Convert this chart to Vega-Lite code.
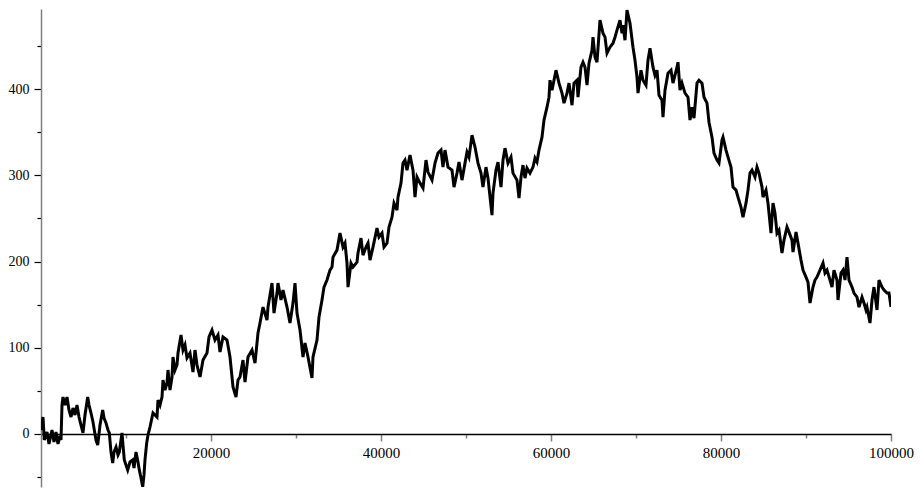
{
"$schema":"https://vega.github.io/schema/vega-lite/v6.json",
"width":850,"height":478,
"autosize":{"type":"none"},
"padding":{"left":41,"top":9,"right":29,"bottom":9},
"background":"white",
"config":{"view":{"stroke":null}},
"data":{"values":[
{"x":0,"y":4.6},{"x":235,"y":19.7},{"x":388,"y":-7},{"x":706,"y":2.3},{"x":941,"y":-11.6},{"x":1294,"y":4.6},{"x":1529,"y":-9.3},{"x":1765,"y":2.3},{"x":2000,"y":-11.6},{"x":2235,"y":-2.3},{"x":2353,"y":-7},{"x":2471,"y":33.6},{"x":2588,"y":42.9},{"x":2824,"y":33.6},{"x":3059,"y":42.9},{"x":3294,"y":27.8},{"x":3529,"y":19.7},{"x":3765,"y":30.1},{"x":4000,"y":22},{"x":4235,"y":33.6},{"x":4471,"y":19.7},{"x":4706,"y":10.4},{"x":4941,"y":1.2},{"x":5176,"y":22},{"x":5494,"y":42.9},{"x":5647,"y":33.6},{"x":5882,"y":24.3},{"x":6118,"y":13.9},{"x":6271,"y":4.6},{"x":6471,"y":-7},{"x":6671,"y":-12.8},{"x":6941,"y":10.4},{"x":7259,"y":27.8},{"x":7412,"y":18.6},{"x":7647,"y":12.8},{"x":7882,"y":4.6},{"x":8035,"y":1.2},{"x":8235,"y":-20.9},{"x":8435,"y":-33.6},{"x":8588,"y":-20.9},{"x":8824,"y":-15.1},{"x":9059,"y":-24.3},{"x":9212,"y":-20.9},{"x":9529,"y":1.2},{"x":9647,"y":-12.8},{"x":9800,"y":-30.1},{"x":10000,"y":-35.9},{"x":10200,"y":-41.7},{"x":10471,"y":-32.5},{"x":10788,"y":-30.1},{"x":10941,"y":-39.4},{"x":11176,"y":-20.9},{"x":11412,"y":-32.5},{"x":11565,"y":-41.7},{"x":11765,"y":-51},{"x":11965,"y":-61.4},{"x":12118,"y":-47.5},{"x":12235,"y":-30.1},{"x":12435,"y":-10.4},{"x":12588,"y":-1.2},{"x":12824,"y":8.1},{"x":13176,"y":24.3},{"x":13647,"y":19.7},{"x":13765,"y":39.4},{"x":14000,"y":33.6},{"x":14235,"y":42.9},{"x":14353,"y":62.6},{"x":14588,"y":51},{"x":14824,"y":59.1},{"x":14941,"y":74.2},{"x":15176,"y":51},{"x":15412,"y":66.1},{"x":15529,"y":89.3},{"x":15765,"y":74.2},{"x":16000,"y":80},{"x":16118,"y":93.9},{"x":16471,"y":114.8},{"x":16706,"y":97.4},{"x":16941,"y":103.2},{"x":17176,"y":88.1},{"x":17529,"y":93.9},{"x":17882,"y":71.9},{"x":18118,"y":97.4},{"x":18353,"y":80},{"x":18706,"y":66.1},{"x":19059,"y":85.8},{"x":19529,"y":93.9},{"x":19765,"y":112.5},{"x":20118,"y":120.6},{"x":20471,"y":109},{"x":20824,"y":114.8},{"x":21059,"y":95.1},{"x":21412,"y":112.5},{"x":21882,"y":109},{"x":22235,"y":89.3},{"x":22588,"y":54.5},{"x":22941,"y":42.9},{"x":23176,"y":62.6},{"x":23412,"y":66.1},{"x":23765,"y":85.8},{"x":24000,"y":60.3},{"x":24353,"y":89.3},{"x":24824,"y":97.4},{"x":25176,"y":82.3},{"x":25529,"y":117.1},{"x":25765,"y":128.7},{"x":26118,"y":147.2},{"x":26588,"y":132.2},{"x":26706,"y":147.2},{"x":27176,"y":175.1},{"x":27412,"y":140.3},{"x":27765,"y":163.5},{"x":27882,"y":175.1},{"x":28235,"y":155.4},{"x":28471,"y":167},{"x":28941,"y":147.2},{"x":29294,"y":128.7},{"x":29647,"y":151.9},{"x":29882,"y":175.1},{"x":30118,"y":140.3},{"x":30471,"y":120.6},{"x":30824,"y":89.3},{"x":31059,"y":105.5},{"x":31412,"y":89.3},{"x":31882,"y":64.9},{"x":32000,"y":89.3},{"x":32471,"y":109},{"x":32706,"y":135.7},{"x":33059,"y":155.4},{"x":33294,"y":170.4},{"x":33647,"y":178.6},{"x":34000,"y":190.1},{"x":34235,"y":193.6},{"x":34353,"y":205.2},{"x":34824,"y":213.3},{"x":35176,"y":233},{"x":35529,"y":216.8},{"x":35765,"y":221.4},{"x":36000,"y":198.3},{"x":36118,"y":170.4},{"x":36471,"y":198.3},{"x":36706,"y":193.6},{"x":37176,"y":199.4},{"x":37294,"y":209.9},{"x":37647,"y":227.2},{"x":37882,"y":207.5},{"x":38235,"y":216.8},{"x":38471,"y":221.4},{"x":38706,"y":201.7},{"x":39059,"y":216.8},{"x":39529,"y":238.8},{"x":39765,"y":228.4},{"x":40118,"y":233},{"x":40353,"y":216.8},{"x":40706,"y":221.4},{"x":40941,"y":240},{"x":41294,"y":251.6},{"x":41529,"y":267.8},{"x":41882,"y":259.7},{"x":42000,"y":274.8},{"x":42353,"y":291},{"x":42588,"y":314.2},{"x":42824,"y":317.7},{"x":43059,"y":306.1},{"x":43412,"y":323.5},{"x":43765,"y":306.1},{"x":44000,"y":274.8},{"x":44235,"y":298},{"x":44588,"y":291},{"x":44941,"y":285.2},{"x":45294,"y":317.7},{"x":45529,"y":303.8},{"x":46000,"y":294.5},{"x":46353,"y":314.2},{"x":46706,"y":325.8},{"x":47059,"y":329.3},{"x":47294,"y":309.6},{"x":47529,"y":329.3},{"x":47882,"y":309.6},{"x":48353,"y":306.1},{"x":48588,"y":286.4},{"x":48941,"y":302.6},{"x":49176,"y":315.4},{"x":49529,"y":294.5},{"x":49882,"y":314.2},{"x":50118,"y":327},{"x":50353,"y":321.2},{"x":50706,"y":346.7},{"x":51059,"y":332.8},{"x":51412,"y":314.2},{"x":51765,"y":302.6},{"x":52000,"y":286.4},{"x":52353,"y":309.6},{"x":52588,"y":296.8},{"x":53059,"y":253.9},{"x":53176,"y":279.4},{"x":53529,"y":306.1},{"x":53765,"y":315.4},{"x":54118,"y":286.4},{"x":54353,"y":317.7},{"x":54588,"y":331.6},{"x":54941,"y":314.2},{"x":55294,"y":321.2},{"x":55529,"y":302.6},{"x":56000,"y":294.5},{"x":56235,"y":273.6},{"x":56471,"y":298},{"x":56706,"y":311.9},{"x":56941,"y":296.8},{"x":57176,"y":308.4},{"x":57529,"y":302.6},{"x":57882,"y":309.6},{"x":58118,"y":320},{"x":58353,"y":315.4},{"x":58588,"y":329.3},{"x":58941,"y":344.3},{"x":59176,"y":364.1},{"x":59529,"y":379.1},{"x":59765,"y":390.7},{"x":59882,"y":410.4},{"x":60118,"y":398.8},{"x":60588,"y":422},{"x":60941,"y":407},{"x":61294,"y":395.4},{"x":61529,"y":383.8},{"x":61882,"y":395.4},{"x":62118,"y":407},{"x":62471,"y":381.4},{"x":62706,"y":407},{"x":63059,"y":410.4},{"x":63176,"y":390.7},{"x":63529,"y":425.5},{"x":63765,"y":431.3},{"x":64000,"y":425.5},{"x":64235,"y":404.6},{"x":64471,"y":430.1},{"x":64824,"y":445.2},{"x":64941,"y":460.3},{"x":65176,"y":437.1},{"x":65412,"y":431.3},{"x":65765,"y":480},{"x":66118,"y":464.9},{"x":66353,"y":460.3},{"x":66588,"y":441.7},{"x":66941,"y":448.7},{"x":67294,"y":453.3},{"x":67529,"y":460.3},{"x":67765,"y":468.4},{"x":68118,"y":480},{"x":68353,"y":464.9},{"x":68471,"y":474.2},{"x":68706,"y":456.8},{"x":68941,"y":491.6},{"x":69294,"y":476.5},{"x":69647,"y":448.7},{"x":69882,"y":433.6},{"x":70118,"y":413.9},{"x":70235,"y":395.4},{"x":70588,"y":422},{"x":70824,"y":410.4},{"x":71176,"y":404.6},{"x":71412,"y":433.6},{"x":71647,"y":447.5},{"x":72000,"y":425.5},{"x":72235,"y":416},{"x":72471,"y":422},{"x":72706,"y":393},{"x":73059,"y":387.2},{"x":73176,"y":367.5},{"x":73412,"y":398.8},{"x":73765,"y":418.6},{"x":74118,"y":422},{"x":74353,"y":407},{"x":74824,"y":425.5},{"x":74941,"y":431.3},{"x":75176,"y":398.8},{"x":75412,"y":407},{"x":75765,"y":395.4},{"x":76118,"y":390.7},{"x":76353,"y":364.1},{"x":76588,"y":379.1},{"x":76824,"y":366.4},{"x":77176,"y":407},{"x":77412,"y":410.4},{"x":77765,"y":407},{"x":78000,"y":390.7},{"x":78353,"y":383.8},{"x":78588,"y":361.7},{"x":78941,"y":344.3},{"x":79176,"y":325.8},{"x":79529,"y":317.7},{"x":79765,"y":314.2},{"x":80118,"y":340.9},{"x":80235,"y":344.3},{"x":80588,"y":329.3},{"x":80824,"y":321.2},{"x":81176,"y":309.6},{"x":81412,"y":286.4},{"x":81765,"y":282.9},{"x":82000,"y":274.8},{"x":82353,"y":263.2},{"x":82588,"y":251.6},{"x":82941,"y":267.8},{"x":83176,"y":282.9},{"x":83412,"y":302.6},{"x":83647,"y":306.1},{"x":84000,"y":298},{"x":84235,"y":309.6},{"x":84471,"y":302.6},{"x":84824,"y":286.4},{"x":84941,"y":274.8},{"x":85294,"y":282.9},{"x":85529,"y":267.8},{"x":85882,"y":233},{"x":86118,"y":267.8},{"x":86353,"y":256.2},{"x":86588,"y":233},{"x":86824,"y":236.5},{"x":87176,"y":209.9},{"x":87412,"y":224.9},{"x":87765,"y":240},{"x":88000,"y":234.2},{"x":88353,"y":224.9},{"x":88471,"y":211},{"x":88824,"y":234.2},{"x":89059,"y":221.4},{"x":89412,"y":201.7},{"x":89647,"y":190.1},{"x":90000,"y":182},{"x":90235,"y":176.2},{"x":90471,"y":151.9},{"x":90824,"y":170.4},{"x":91059,"y":178.6},{"x":91294,"y":182},{"x":91647,"y":190.1},{"x":92000,"y":198.3},{"x":92235,"y":186.7},{"x":92471,"y":190.1},{"x":92824,"y":178.6},{"x":93059,"y":170.4},{"x":93294,"y":190.1},{"x":93647,"y":178.6},{"x":93765,"y":155.4},{"x":94118,"y":186.7},{"x":94353,"y":190.1},{"x":94588,"y":178.6},{"x":94824,"y":205.2},{"x":95059,"y":178.6},{"x":95412,"y":170.4},{"x":95647,"y":163.5},{"x":96000,"y":158.8},{"x":96235,"y":147.2},{"x":96588,"y":158.8},{"x":96824,"y":151.9},{"x":97059,"y":143.8},{"x":97176,"y":147.2},{"x":97529,"y":128.7},{"x":97765,"y":155.4},{"x":98000,"y":170.4},{"x":98353,"y":143.8},{"x":98588,"y":178.6},{"x":98941,"y":170.4},{"x":99176,"y":167},{"x":99529,"y":163.5},{"x":99765,"y":163.5},{"x":100000,"y":147.2}
]},
"mark":{"type":"line","color":"black","strokeWidth":3,"strokeJoin":"miter","clip":true},
"encoding":{
"x":{"field":"x","type":"quantitative","scale":{"domain":[0,100000],"nice":false,"zero":false},
"axis":{"title":null,"grid":false,"offset":-53,"values":[10000,20000,30000,40000,50000,60000,70000,80000,90000,100000],
"labelExpr":"datum.value % 20000 === 0 ? format(datum.value,'d') : ''",
"tickSize":{"condition":{"test":"datum.value % 20000 === 0","value":7},"value":4},
"tickColor":"#808080","tickWidth":1.5,"domainColor":"black","domainWidth":1.5,
"labelFont":"Liberation Serif","labelFontSize":15,"labelColor":"black","labelPadding":4,"labelFlush":false,"labelOverlap":false}},
"y":{"field":"y","type":"quantitative","scale":{"domain":[-61.5,493],"nice":false,"zero":false},
"axis":{"title":null,"grid":false,"values":[-50,0,50,100,150,200,250,300,350,400,450],
"labelExpr":"datum.value % 100 === 0 ? format(datum.value,'d') : ''",
"tickSize":{"condition":{"test":"datum.value % 100 === 0","value":7},"value":4},
"tickColor":"black","tickWidth":1.2,"domainColor":"#808080","domainWidth":1.5,
"labelFont":"Liberation Serif","labelFontSize":14,"labelColor":"black","labelPadding":5,"labelOverlap":false}}
}
}
